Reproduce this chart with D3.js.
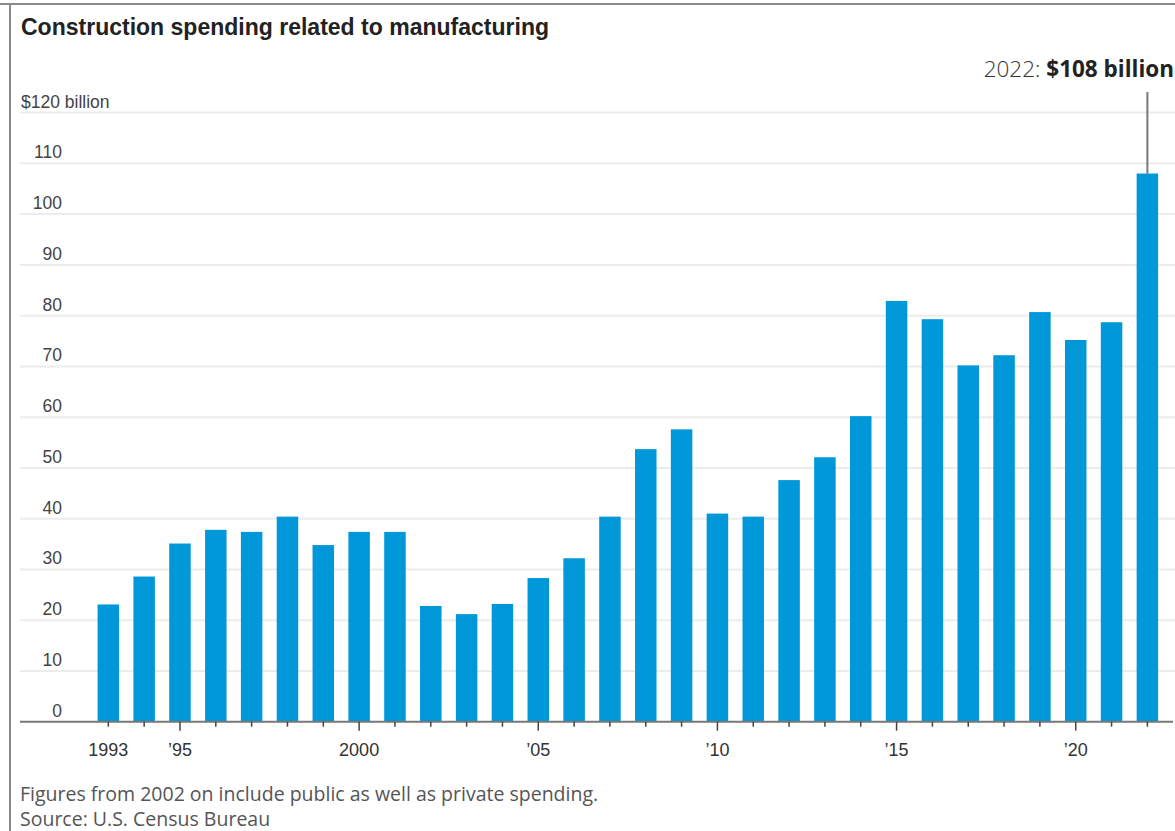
<!DOCTYPE html>
<html>
<head>
<meta charset="utf-8">
<script src="https://cdn.jsdelivr.net/npm/d3@7"></script>
<style>
  html, body { margin: 0; padding: 0; background: #fff; }
  svg { display: block; }
  .title { font-family: "Liberation Sans", sans-serif; font-weight: bold; font-size: 24.5px; fill: #222; }
  .ylab { font-family: "Liberation Sans", sans-serif; font-size: 17.5px; fill: #444; }
  .xlab { font-family: "Liberation Sans", sans-serif; font-size: 18px; fill: #333; }
  .note { font-family: "Open Sans", sans-serif; font-size: 19.5px; fill: #555; }
  .anno { font-family: "Open Sans", sans-serif; font-size: 22.5px; fill: #333; }
</style>
</head>
<body>
<svg id="chart" width="1175" height="831"></svg>
<script>
// Annual construction spending related to manufacturing, $ billions
const years = d3.range(1993, 2023);
const spending = [
  23.1, 28.6, 35.1, 37.8, 37.4, 40.4, 34.8, 37.4, 37.4, 22.8,
  21.2, 23.2, 28.3, 32.2, 40.4, 53.7, 57.6, 41.0, 40.4, 47.6,
  52.1, 60.2, 82.9, 79.3, 70.2, 72.2, 80.7, 75.2, 78.7, 108
];
const yTicks = [0, 10, 20, 30, 40, 50, 60, 70, 80, 90, 100, 110, 120];
const labeledYears = [1993, 1995, 2000, 2005, 2010, 2015, 2020];
const yearLabels = ["1993", "\u201995", "2000", "\u201905", "\u201910", "\u201915", "\u201920"];

const svg = d3.select("#chart");
const W = 1175, H = 831;

// Frame lines
svg.append("line").attr("x1", 0).attr("x2", W).attr("y1", 4).attr("y2", 4)
  .attr("stroke", "#8a8a8a").attr("stroke-width", 2);
svg.append("line").attr("x1", 10).attr("x2", 10).attr("y1", 3).attr("y2", H)
  .attr("stroke", "#8a8a8a").attr("stroke-width", 2);

svg.append("text").attr("class", "title").attr("x", 21).attr("y", 35)
  .attr("textLength", 528).attr("lengthAdjust", "spacingAndGlyphs")
  .text("Construction spending related to manufacturing");

const x = d3.scaleBand()
  .domain(years)
  .range([90.4, 1165.3])
  .paddingInner(0.4)
  .paddingOuter(0.2);

const y = d3.scaleLinear().domain([0, 120]).range([721.7, 112.6]);

// Gridlines and y labels
const grid = svg.append("g");
grid.selectAll("line").data(yTicks.filter(d => d > 0)).join("line")
  .attr("x1", 20).attr("x2", W)
  .attr("y1", d => y(d)).attr("y2", d => y(d))
  .attr("stroke", "#ececec").attr("stroke-width", 2);

svg.append("g").selectAll("text").data(yTicks).join("text")
  .attr("class", "ylab")
  .attr("x", d => d === 120 ? 21 : 62)
  .attr("y", d => y(d) - 5)
  .attr("text-anchor", d => d === 120 ? "start" : "end")
  .text(d => d === 120 ? "$120 billion" : d);

// Bars
svg.append("g").selectAll("rect").data(years).join("rect")
  .attr("x", (d) => x(d))
  .attr("width", x.bandwidth())
  .attr("y", (d, i) => y(spending[i]))
  .attr("height", (d, i) => y(0) - y(spending[i]))
  .attr("fill", "#0098d9");

// X axis baseline and ticks
svg.append("line").attr("x1", 20).attr("x2", 1173).attr("y1", y(0)).attr("y2", y(0))
  .attr("stroke", "#777").attr("stroke-width", 2);

svg.append("g").selectAll("line").data(years).join("line")
  .attr("x1", d => x(d) + x.bandwidth() / 2)
  .attr("x2", d => x(d) + x.bandwidth() / 2)
  .attr("y1", y(0))
  .attr("y2", d => (labeledYears.includes(d) && d !== 1993) ? y(0) + 9 : y(0) + 5)
  .attr("stroke", "#444").attr("stroke-width", 1.5);

svg.append("g").selectAll("text").data(labeledYears).join("text")
  .attr("class", "xlab")
  .attr("x", d => x(d) + x.bandwidth() / 2)
  .attr("y", 756)
  .attr("text-anchor", "middle")
  .text((d, i) => yearLabels[i]);

// Annotation for the latest year
const last = years[years.length - 1];
const lastVal = spending[spending.length - 1];
const cx = x(last) + x.bandwidth() / 2;
svg.append("line").attr("x1", cx).attr("x2", cx).attr("y1", 92).attr("y2", y(lastVal))
  .attr("stroke", "#777").attr("stroke-width", 2);
const anno = svg.append("text").attr("class", "anno").attr("x", 1174).attr("y", 77)
  .attr("text-anchor", "end");
anno.append("tspan").attr("font-weight", 300).text(last + ": ");
anno.append("tspan").attr("font-weight", "bold").attr("fill", "#222").text("$" + lastVal + " billion");

// Footnotes
svg.append("text").attr("class", "note").attr("x", 20).attr("y", 801)
  .text("Figures from 2002 on include public as well as private spending.");
svg.append("text").attr("class", "note").attr("x", 20).attr("y", 826)
  .text("Source: U.S. Census Bureau");
</script>
</body>
</html>
